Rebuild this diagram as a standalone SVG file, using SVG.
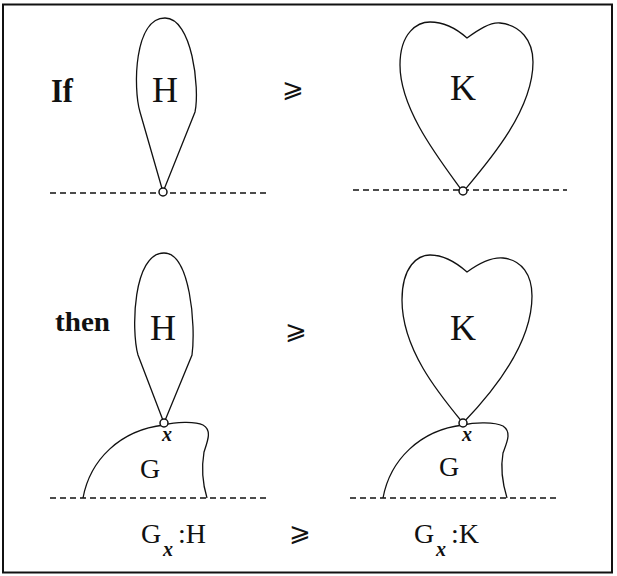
<svg xmlns="http://www.w3.org/2000/svg" width="617" height="576" viewBox="0 0 617 576">
<style>
.sh{fill:none;stroke:#111;stroke-width:1.3}
.dash{stroke:#111;stroke-width:1.3;stroke-dasharray:6,4}
.pt{fill:#fff;stroke:#111;stroke-width:1.5}
text{font-family:"Liberation Serif","DejaVu Serif",serif;fill:#111}
.sym{font-family:"DejaVu Sans","Noto Sans",sans-serif;font-size:26px}
.lab{font-size:36px}
.g{font-size:28px}
.x{font-size:20px;font-style:italic;font-weight:bold}
</style>
<rect x="3" y="4.5" width="609" height="568" fill="#fff" stroke="#111" stroke-width="2"/>
<g id="connectors">
<line class="dash" x1="50" y1="193" x2="270" y2="193"/>
<line class="dash" x1="353" y1="190" x2="567" y2="190"/>
<line class="dash" x1="50" y1="498" x2="270" y2="498"/>
<line class="dash" x1="350" y1="498" x2="560" y2="498"/>
</g>
<g id="label-if"><text x="51" y="102" font-size="34" font-weight="bold" textLength="22" lengthAdjust="spacingAndGlyphs">If</text></g>
<g id="label-then"><text x="55" y="331" font-size="27" font-weight="bold" textLength="55" lengthAdjust="spacingAndGlyphs">then</text></g>
<g id="H-top">
<path class="sh" d="M163,192 L140,112 C133,88 134,18 165,18 C192,18 200,88 195,112 Z"/>
<text class="lab" x="165" y="102" text-anchor="middle">H</text>
<circle class="pt" cx="163" cy="192" r="4"/>
</g>
<g id="K-top">
<path class="sh" d="M463,192 C440,160 400,110 400,65 C400,32 418,22 430,22 C445,22 458,30 467,38 C478,30 490,22 500,23 C520,25 533,40 533,62 C533,110 490,160 463,192 Z"/>
<text class="lab" x="463" y="100" text-anchor="middle">K</text>
<circle class="pt" cx="463" cy="191" r="4"/>
</g>
<g id="G-left">
<path class="sh" d="M83,498 C90,460 120,430 164,425 C175,422 195,421 203,425 C212,430 208,440 204,452 C201,470 203,485 207,498"/>
<text class="g" x="150" y="478" text-anchor="middle">G</text>
<text class="x" x="167" y="441" text-anchor="middle">x</text>
</g>
<g id="H-bottom">
<path class="sh" d="M164,423 L138,355 C131,330 133,253 164,253 C190,253 196,325 192,355 Z"/>
<text class="lab" x="163" y="340" text-anchor="middle">H</text>
<circle class="pt" cx="164" cy="423" r="4"/>
</g>
<g id="G-right">
<path class="sh" d="M383,498 C390,460 420,430 463,425 C475,422 495,422 503,426 C512,432 507,442 503,453 C500,470 503,485 507,498"/>
<text class="g" x="449" y="476" text-anchor="middle">G</text>
<text class="x" x="467" y="441" text-anchor="middle">x</text>
</g>
<g id="K-bottom">
<path class="sh" d="M463,423 C440,395 402,350 402,300 C402,266 418,255 430,255 C445,255 458,264 467,272 C478,264 492,257 503,258 C522,260 532,275 532,296 C532,345 490,395 463,423 Z"/>
<text class="lab" x="463" y="340" text-anchor="middle">K</text>
<circle class="pt" cx="463" cy="423" r="4"/>
</g>
<g id="rel-1"><text class="sym" x="293" y="97" text-anchor="middle">⩾</text></g>
<g id="rel-2"><text class="sym" x="296" y="339" text-anchor="middle">⩾</text></g>
<g id="rel-3"><text class="sym" x="300" y="541" text-anchor="middle">⩾</text></g>
<g id="formula-left">
<text class="g" x="141" y="543">G</text>
<text class="x" x="163" y="556">x</text>
<text class="g" x="178" y="543">:H</text>
</g>
<g id="formula-right">
<text class="g" x="414" y="543">G</text>
<text class="x" x="436" y="556">x</text>
<text class="g" x="451" y="543">:K</text>
</g>
</svg>
